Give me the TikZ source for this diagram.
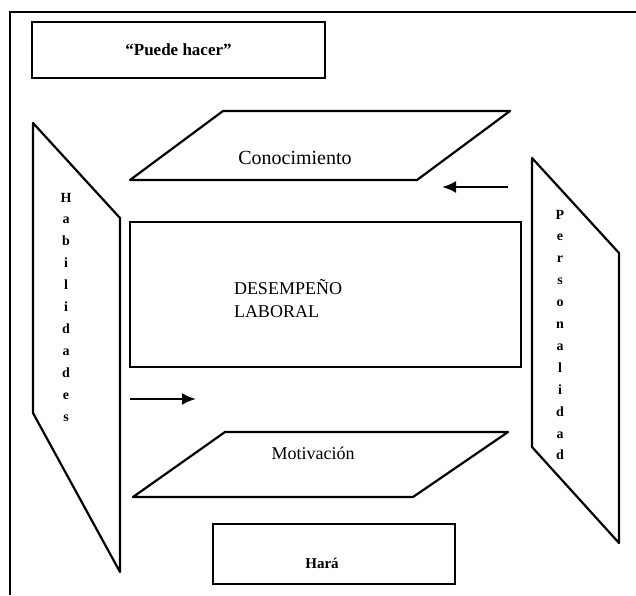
\documentclass[tikz,border=0pt]{standalone}
\usepackage{fontspec}
\setmainfont{Liberation Serif}
\usetikzlibrary{arrows.meta}
\begin{document}
\begin{tikzpicture}[x=1pt,y=-1pt,line width=2pt,
  box/.style={draw,inner sep=0pt,line width=2.2pt},
  panel/.style={line width=2.2pt,line join=round},
  label/.style={inner sep=0pt},
  vert/.style={inner sep=0pt,align=center,font=\fontsize{14}{21.9}\selectfont\bfseries},
  flow/.style={-{Latex[length=14pt,width=12pt]},line width=2.4pt}]
\useasboundingbox (0,0) rectangle (636,595);
\fill[white] (0,0) rectangle (636,595);

% outer frame
\draw (10,595) -- (10,12) -- (636,12);

% top and bottom boxes
\node[box,minimum width=293pt,minimum height=56pt] (puede) at (178.5,50)
  {\fontsize{17}{20}\selectfont\bfseries ``Puede hacer''};
\node[box,minimum width=242pt,minimum height=60pt] (hara) at (334,554) {};
\node[label,font=\fontsize{15}{18}\selectfont\bfseries] (haratxt) at (322,563) {Hará};

% central box
\node[box,minimum width=391pt,minimum height=145pt] (desemp) at (325.5,294.5) {};
\node[label,align=left,anchor=north west,font=\fontsize{18}{23}\selectfont] (destxt) at (233,278)
  {DESEMPEÑO\\LABORAL};

% Conocimiento parallelogram
\coordinate (c1) at (223,111);
\coordinate (c2) at (510,111);
\coordinate (c3) at (417,180);
\coordinate (c4) at (130,180);
\draw[panel] (c1) -- (c2) -- (c3) -- (c4) -- cycle;
\node[label,font=\fontsize{20}{24}\selectfont] (conoc) at (295,158) {Conocimiento};

% Motivacion parallelogram
\coordinate (m1) at (225,432);
\coordinate (m2) at (508,432);
\coordinate (m3) at (413,497);
\coordinate (m4) at (133,497);
\draw[panel] (m1) -- (m2) -- (m3) -- (m4) -- cycle;
\node[label,font=\fontsize{18}{22}\selectfont] (motiv) at (313,453) {Motivación};

% Habilidades panel
\coordinate (h1) at (33,123);
\coordinate (h2) at (120,218);
\coordinate (h3) at (120,572);
\coordinate (h4) at (33,413);
\draw[panel] (h1) -- (h2) -- (h3) -- (h4) -- cycle;
\node[vert] (habil) at (66,307) {H\\a\\b\\i\\l\\i\\d\\a\\d\\e\\s};

% Personalidad panel
\coordinate (p1) at (532,158);
\coordinate (p2) at (619,253);
\coordinate (p3) at (619,543);
\coordinate (p4) at (532,447);
\draw[panel] (p1) -- (p2) -- (p3) -- (p4) -- cycle;
\node[vert] (perso) at (560,335) {P\\e\\r\\s\\o\\n\\a\\l\\i\\d\\a\\d};

% arrows
\coordinate (ra) at (508,187);
\coordinate (rb) at (442,187);
\draw[flow] (ra) -- (rb);
\coordinate (la) at (130,399);
\coordinate (lb) at (196,399);
\draw[flow] (la) -- (lb);
\end{tikzpicture}
\end{document}
